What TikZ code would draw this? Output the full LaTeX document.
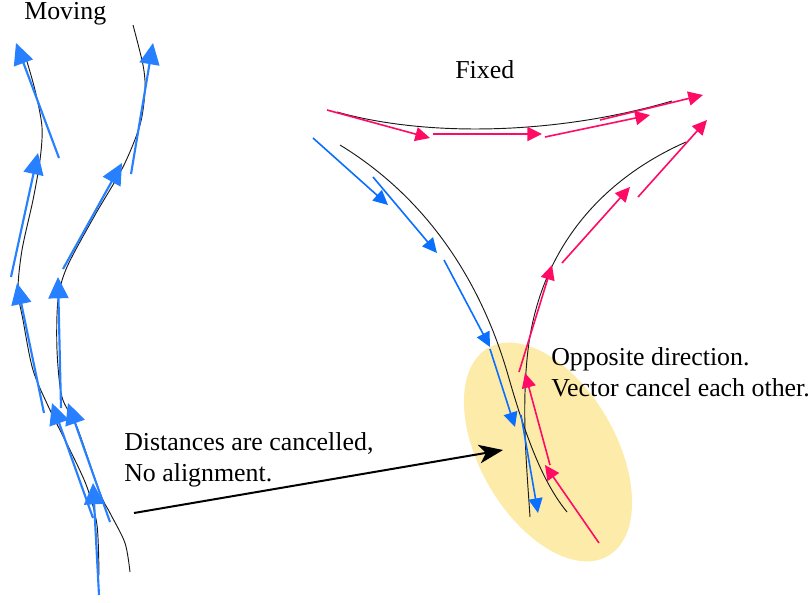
\documentclass[tikz,border=0pt]{standalone}
\usepackage{fontspec}
\setmainfont{Liberation Serif}
\usepackage{tikz}
\usetikzlibrary{arrows.meta, calc}

\definecolor{moveblue}{RGB}{38,128,255}
\definecolor{fixblue}{RGB}{10,110,255}
\definecolor{fixpink}{RGB}{255,10,100}
\definecolor{zonefill}{RGB}{253,235,170}

\begin{document}
\begin{tikzpicture}[
    x=0.75pt, y=-0.75pt,
    track/.style={line width=0.7pt, draw=black!90},
    movearrow/.style={-{Triangle[length=16pt, width=15pt]}, line width=1.6pt, draw=moveblue, fill=moveblue},
    fixarrow/.style={-{Triangle[length=11pt, width=10.5pt]}, line width=1.2pt},
    note/.style={inner sep=0pt, align=left, font=\rmfamily\fontsize{19.4}{23.3}\selectfont},
]
\useasboundingbox (0,0) rectangle (811,603);

% highlighted crossing
\fill[zonefill, rotate around={-60:(548,452)}] (548,452) ellipse [x radius=120, y radius=68];

\node[note, anchor=base west] (moving) at (24,19) {Moving};
\node[note, anchor=base west] (fixed) at (455,78) {Fixed};
\node[note, anchor=north west] (cancel) at (124,432) {Distances are cancelled,\\No alignment.};
\node[note, anchor=north west] (opposite) at (551,347) {Opposite direction.\\Vector cancel each other.};

% moving trajectories
\draw[track] plot[smooth] coordinates {(25,55) (35,90) (42,127) (40,160) (33,200) (22,250) (18,290) (23,320) (33,370) (50,410) (70,450) (87,487) (97,525) (99,575)};
\draw[track] plot[smooth] coordinates {(133,25) (143,65) (145,90) (140,125) (123,167) (95,215) (67,267) (58,300) (57,350) (62,397) (77,427) (100,493) (110,513) (125,543) (130,572)};

\draw[movearrow] (59,158) -- (16,43);
\draw[movearrow] (131,174) -- (153,43);
\draw[movearrow] (11,277) -- (38,153);
\draw[movearrow] (63,269) -- (122,163);
\draw[movearrow] (44,413) -- (17,283);
\draw[movearrow] (61,408) -- (58,277);
\draw[movearrow] (93,518) -- (52,403);
\draw[movearrow] (110,522) -- (68,403);
\draw[movearrow] (99,595) -- (93,483);

% fixed trajectories
\draw[track] (337,112) .. controls (430,138) and (560,134) .. (672,101);
\draw[track] (340,145) .. controls (430,200) and (482,285) .. (508,375) .. controls (528,445) and (545,485) .. (567,512);
\draw[track] (686,142) .. controls (600,180) and (540,250) .. (528,350) .. controls (521,410) and (527,470) .. (530,517);

\draw[fixarrow, fixpink] (327,110) -- (430,138);
\draw[fixarrow, fixpink] (433,134) -- (542,134);
\draw[fixarrow, fixpink] (545,137) -- (650,115);
\draw[fixarrow, fixpink] (600,120) -- (703,95);

\draw[fixarrow, fixblue] (313,138) -- (388,205);
\draw[fixarrow, fixblue] (373,177) -- (437,253);
\draw[fixarrow, fixblue] (444,260) -- (490,347);
\draw[fixarrow, fixblue] (490,349) -- (515,427);
\draw[fixarrow, fixblue] (521,415) -- (538,513);

\draw[fixarrow, fixpink] (599,543) -- (545,465);
\draw[fixarrow, fixpink] (550,465) -- (525,373);
\draw[fixarrow, fixpink] (519,372) -- (552,265);
\draw[fixarrow, fixpink] (562,263) -- (630,187);
\draw[fixarrow, fixpink] (638,197) -- (707,120);

\coordinate (from) at (134,513);
\coordinate (into) at (503,450);
\draw[-{Stealth[length=18pt, width=14pt, inset=5pt]}, line width=1.5pt] (from) -- (into);

\end{tikzpicture}
\end{document}
